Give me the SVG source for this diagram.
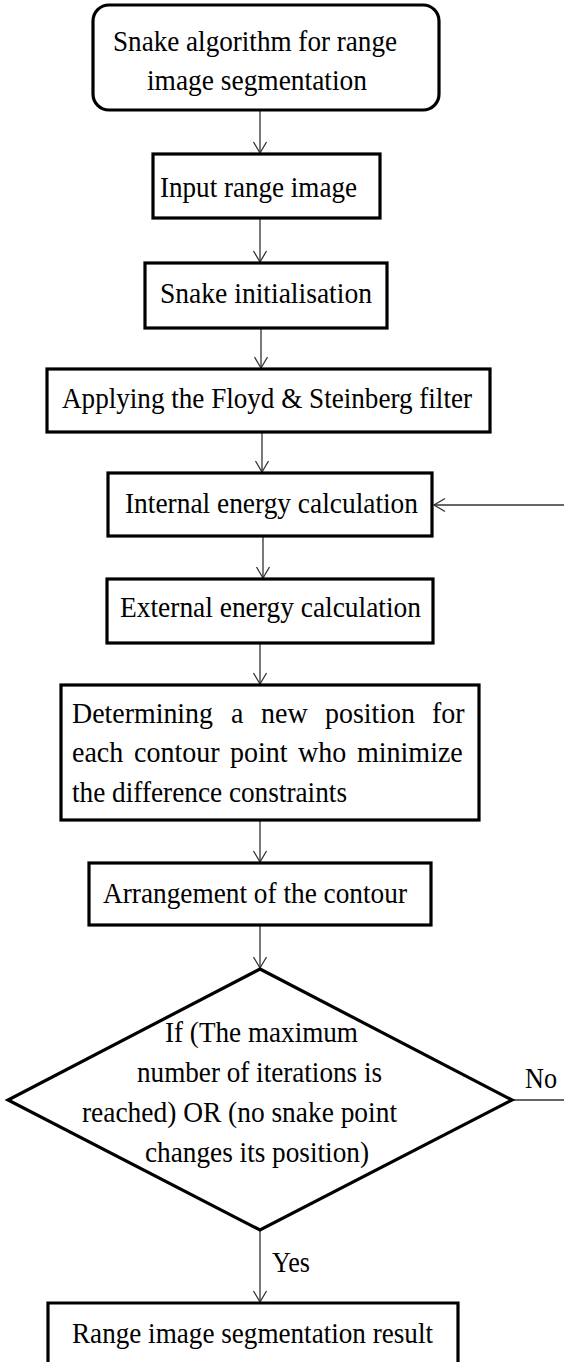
<svg xmlns="http://www.w3.org/2000/svg" width="564" height="1362" viewBox="0 0 564 1362">
<style>
.box{fill:#fff;stroke:#000;stroke-width:3.2}
.t{font-family:"Liberation Serif","Times New Roman",serif;font-size:30px;fill:#000}
.c{fill:none;stroke:#333;stroke-width:1.3}
</style>
<defs>
<marker id="ah" markerUnits="userSpaceOnUse" markerWidth="14" markerHeight="16" refX="12" refY="7" orient="auto" overflow="visible">
<path d="M1,0.5 L12,7 L1,13.5" fill="none" stroke="#333" stroke-width="1.3"/>
</marker>
</defs>
<rect width="564" height="1362" fill="#fff"/>
<g id="connectors">
<path class="c" d="M260,110 V153" marker-end="url(#ah)"/>
<path class="c" d="M260,218 V262" marker-end="url(#ah)"/>
<path class="c" d="M261,328 V368" marker-end="url(#ah)"/>
<path class="c" d="M262,432 V472" marker-end="url(#ah)"/>
<path class="c" d="M263,536 V578" marker-end="url(#ah)"/>
<path class="c" d="M260,643 V684" marker-end="url(#ah)"/>
<path class="c" d="M260,820 V862" marker-end="url(#ah)"/>
<path class="c" d="M260,925 V968" marker-end="url(#ah)"/>
<path class="c" d="M260,1230 V1302" marker-end="url(#ah)"/>
<path class="c" d="M512,1100 H564"/>
<path class="c" d="M564,505 H434" marker-end="url(#ah)"/>
<text class="t" x="525" y="1088" textLength="32" lengthAdjust="spacingAndGlyphs">No</text>
<text class="t" x="272" y="1272" textLength="38" lengthAdjust="spacingAndGlyphs">Yes</text>
</g>
<g id="start">
<rect class="box" x="93" y="5" width="346" height="105" rx="16"/>
<text class="t" x="113" y="51" textLength="284" lengthAdjust="spacingAndGlyphs">Snake algorithm for range</text>
<text class="t" x="147" y="90" textLength="220" lengthAdjust="spacingAndGlyphs">image segmentation</text>
</g>
<g id="input">
<rect class="box" x="153" y="154" width="227" height="64"/>
<text class="t" x="160" y="197" textLength="197" lengthAdjust="spacingAndGlyphs">Input range image</text>
</g>
<g id="init">
<rect class="box" x="145" y="263" width="242" height="65"/>
<text class="t" x="160" y="303" textLength="212" lengthAdjust="spacingAndGlyphs">Snake initialisation</text>
</g>
<g id="filter">
<rect class="box" x="47" y="369" width="443" height="63"/>
<text class="t" x="62" y="408" textLength="410" lengthAdjust="spacingAndGlyphs">Applying the Floyd &amp; Steinberg filter</text>
</g>
<g id="internal">
<rect class="box" x="108" y="473" width="324" height="63"/>
<text class="t" x="125" y="513" textLength="293" lengthAdjust="spacingAndGlyphs">Internal energy calculation</text>
</g>
<g id="external">
<rect class="box" x="107" y="579" width="326" height="64"/>
<text class="t" x="120" y="617" textLength="301" lengthAdjust="spacingAndGlyphs">External energy calculation</text>
</g>
<g id="determine">
<rect class="box" x="61" y="685" width="418" height="135"/>
<text class="t" x="72" y="723" textLength="141" lengthAdjust="spacingAndGlyphs">Determining</text>
<text class="t" x="231" y="723" textLength="12.4" lengthAdjust="spacingAndGlyphs">a</text>
<text class="t" x="261" y="723" textLength="46.6" lengthAdjust="spacingAndGlyphs">new</text>
<text class="t" x="325" y="723" textLength="90" lengthAdjust="spacingAndGlyphs">position</text>
<text class="t" x="432" y="723" textLength="32.6" lengthAdjust="spacingAndGlyphs">for</text>
<text class="t" x="72" y="762" textLength="51.3" lengthAdjust="spacingAndGlyphs">each</text>
<text class="t" x="134" y="762" textLength="85.5" lengthAdjust="spacingAndGlyphs">contour</text>
<text class="t" x="230" y="762" textLength="57.6" lengthAdjust="spacingAndGlyphs">point</text>
<text class="t" x="298" y="762" textLength="48.2" lengthAdjust="spacingAndGlyphs">who</text>
<text class="t" x="357" y="762" textLength="105.8" lengthAdjust="spacingAndGlyphs">minimize</text>
<text class="t" x="72" y="802" textLength="275" lengthAdjust="spacingAndGlyphs">the difference constraints</text>
</g>
<g id="arrange">
<rect class="box" x="89" y="863" width="342" height="62"/>
<text class="t" x="103" y="903" textLength="304" lengthAdjust="spacingAndGlyphs">Arrangement of the contour</text>
</g>
<g id="decision">
<polygon class="box" points="260,969 512,1100 260,1230 8,1100"/>
<text class="t" x="165" y="1042" textLength="193" lengthAdjust="spacingAndGlyphs">If (The maximum</text>
<text class="t" x="137" y="1082" textLength="245" lengthAdjust="spacingAndGlyphs">number of iterations is</text>
<text class="t" x="82" y="1122" textLength="315" lengthAdjust="spacingAndGlyphs">reached) OR (no snake point</text>
<text class="t" x="145" y="1162" textLength="224" lengthAdjust="spacingAndGlyphs">changes its position)</text>
</g>
<g id="result">
<path class="box" d="M48,1362 V1303 H458 V1362"/>
<text class="t" x="72" y="1343" textLength="361" lengthAdjust="spacingAndGlyphs">Range image segmentation result</text>
</g>
</svg>
